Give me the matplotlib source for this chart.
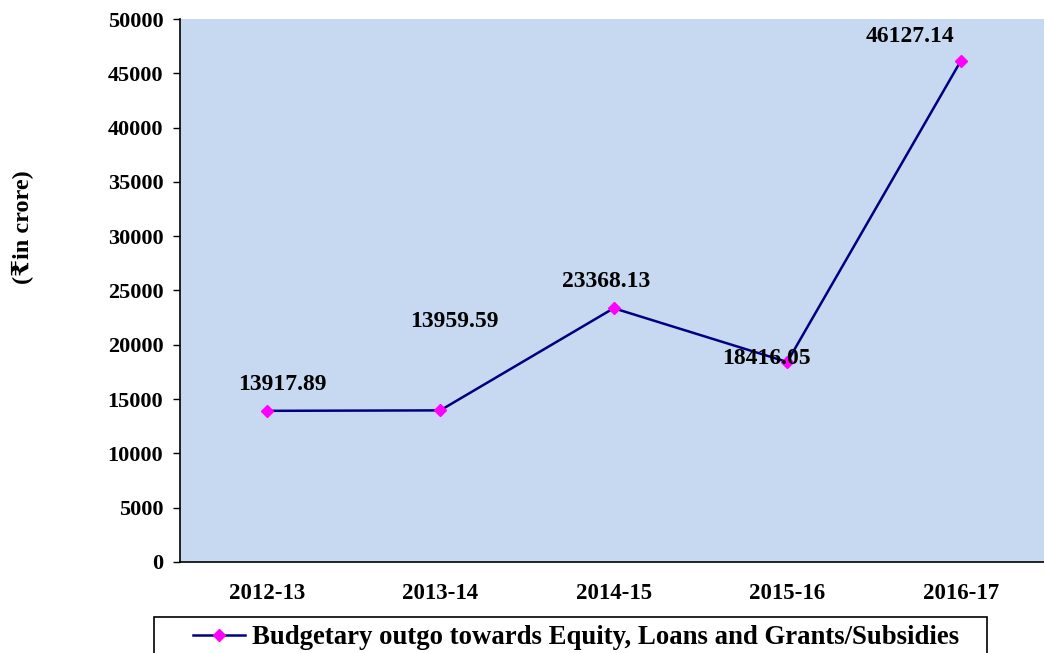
import matplotlib.pyplot as plt
import numpy as np
from matplotlib.patches import Rectangle

years = ['2012-13', '2013-14', '2014-15', '2015-16', '2016-17']
outgo = [13917.89, 13959.59, 23368.13, 18416.05, 46127.14]
label_text = ['13917.89', '13959.59', '23368.13', '18416.05', '46127.14']
series_name = 'Budgetary outgo towards Equity, Loans and Grants/Subsidies'

plt.rcParams['font.family'] = ['Liberation Serif', 'DejaVu Serif', 'DejaVu Sans']
plt.rcParams['font.weight'] = 'bold'

W, H = 1044, 653
fig = plt.figure(figsize=(W / 100, H / 100), dpi=100)
ax = fig.add_axes([0.1724, 0.1394, 0.8276, 0.8315])
ax.set_facecolor('#c6d9f1')

x = np.arange(len(years))
line, = ax.plot(x, outgo, color='#000080', linewidth=1.8, marker='D',
                markersize=6, markerfacecolor='#ff00ff', markeredgecolor='#ff00ff',
                label=series_name)

# label offsets in pixels (placed by hand in the original)
offsets = [(16, 26), (14, 89), (-8, 27), (-21, 3), (-51, 25)]
for xi, yi, t, off in zip(x, outgo, label_text, offsets):
    ax.annotate(t, (xi, yi), xytext=off, textcoords='offset pixels',
                ha='center', va='center', fontsize=17, fontweight='bold')

ax.set_xlim(-0.5, 4.48)
ax.set_ylim(0, 50000)
ax.set_yticks(np.arange(0, 50001, 5000))
ax.set_xticks(x)
ax.set_xticklabels(years)
ax.tick_params(axis='y', direction='out', length=5, width=1, labelsize=16, pad=7)
ax.tick_params(axis='x', length=0, labelsize=16.5, pad=15)
for lab in ax.get_xticklabels() + ax.get_yticklabels():
    lab.set_fontweight('bold')

ax.spines['top'].set_visible(False)
ax.spines['right'].set_visible(False)
ax.spines['left'].set_linewidth(1.2)
ax.spines['bottom'].set_linewidth(1.2)

fig.text(23 / W, 1 - 227 / H, '(₹in crore)', rotation=90, ha='center', va='center',
         fontsize=17.5, fontweight='bold')

# legend box (runs off the bottom edge as in the original)
fig.patches.append(Rectangle((154 / W, -0.05), (987 - 154) / W, 0.05 + 1 - 617 / H,
                             transform=fig.transFigure, facecolor='white',
                             edgecolor='black', linewidth=1.2, zorder=1))
leg = fig.legend(handles=[line], loc='upper left', bbox_to_anchor=(193 / W, 1 - 625 / H),
                 frameon=False, fontsize=19.3, handlelength=1.94,
                 borderpad=0, borderaxespad=0, handletextpad=0.26)
for t in leg.get_texts():
    t.set_fontweight('bold')

fig.savefig('out.png', dpi=100)
